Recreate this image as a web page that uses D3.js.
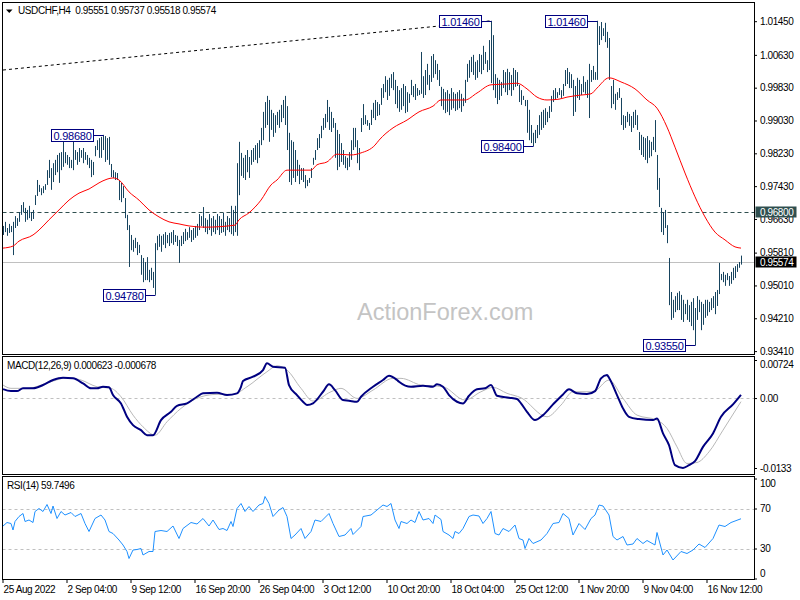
<!DOCTYPE html>
<html><head><meta charset="utf-8">
<script src="https://cdn.jsdelivr.net/npm/d3@7"></script>
<style>
body{margin:0;background:#fff}
svg{display:block}
text{font-family:"Liberation Sans",Arial,sans-serif}
</style>
</head><body><svg id="c" width="800" height="600"></svg>
<script>
// ---------- DATA ----------
const symbolTitle = "USDCHF,H4";
const lastOHLC = [0.95551, 0.95737, 0.95518, 0.95574];

const highs = [
0.9646,0.9656,0.9641,0.9651,0.9646,0.9656,0.9670,0.9665,0.9680,0.9697,
0.9704,0.9690,0.9685,0.9695,0.9680,0.9685,0.9721,0.9758,0.9746,0.9738,
0.9743,0.9748,0.9782,0.9807,0.9787,0.9799,0.9807,0.9819,0.9824,0.9826,
0.9855,0.9826,0.9819,0.9814,0.9807,0.9860,0.9831,0.9826,0.9836,0.9831,
0.9836,0.9826,0.9819,0.9812,0.9807,0.9802,0.9841,0.9855,0.9860,0.9863,
0.9868,0.9865,0.9860,0.9863,0.9797,0.9782,0.9777,0.9775,0.9758,0.9751,
0.9743,0.9714,0.9673,0.9648,0.9624,0.9612,0.9617,0.9607,0.9600,0.9575,
0.9568,0.9558,0.9570,0.9539,0.9544,0.9534,0.9604,0.9622,0.9626,0.9622,
0.9626,0.9631,0.9624,0.9629,0.9631,0.9636,0.9624,0.9622,0.9612,0.9622,
0.9631,0.9639,0.9631,0.9643,0.9636,0.9641,0.9646,0.9651,0.9675,0.9670,
0.9692,0.9665,0.9661,0.9675,0.9665,0.9670,0.9661,0.9675,0.9670,0.9663,
0.9678,0.9656,0.9670,0.9665,0.9695,0.9685,0.9695,0.9799,0.9851,0.9824,
0.9812,0.9819,0.9831,0.9814,0.9831,0.9836,0.9843,0.9848,0.9855,0.9885,
0.9924,0.9948,0.9963,0.9953,0.9929,0.9921,0.9916,0.9924,0.9929,0.9941,
0.9953,0.9963,0.9938,0.9873,0.9855,0.9851,0.9831,0.9807,0.9795,0.9787,
0.9787,0.9770,0.9758,0.9763,0.9787,0.9812,0.9831,0.9860,0.9870,0.9890,
0.9909,0.9919,0.9953,0.9936,0.9924,0.9909,0.9897,0.9880,0.9870,0.9848,
0.9831,0.9816,0.9812,0.9826,0.9855,0.9885,0.9885,0.9855,0.9836,0.9909,
0.9943,0.9916,0.9904,0.9897,0.9929,0.9946,0.9953,0.9948,0.9943,0.9982,
0.9992,1.0011,1.0002,1.0007,1.0016,1.0021,1.0002,0.9987,0.9977,0.9982,
0.9992,0.9987,0.9972,0.9968,1.0002,0.9987,0.9992,0.9982,0.9977,1.0070,
1.0011,1.0026,1.0041,1.0014,1.0060,1.0065,1.0050,1.0041,1.0026,0.9985,
0.9980,0.9972,0.9977,0.9968,0.9982,0.9972,0.9968,0.9972,0.9977,0.9968,
0.9958,1.0002,1.0041,1.0050,1.0058,1.0063,1.0046,1.0050,1.0065,1.0063,
1.0085,1.0070,1.0050,1.0099,1.0146,1.0111,1.0016,1.0007,1.0002,0.9997,
1.0026,1.0021,1.0029,1.0021,1.0014,1.0031,1.0026,1.0021,0.9990,0.9977,
0.9963,0.9953,0.9953,0.9929,0.9892,0.9873,0.9880,0.9892,0.9916,0.9924,
0.9929,0.9933,0.9924,0.9938,0.9963,0.9977,0.9982,0.9972,0.9982,0.9977,
0.9992,1.0026,1.0031,1.0021,1.0016,1.0002,0.9987,1.0007,1.0002,0.9992,
1.0011,0.9997,1.0002,1.0041,1.0026,1.0036,1.0021,1.0146,1.0133,1.0143,
1.0128,1.0141,1.0119,1.0104,0.9987,1.0002,0.9968,0.9972,0.9982,0.9958,
0.9916,0.9914,0.9924,0.9919,0.9914,0.9924,0.9929,0.9916,0.9875,0.9868,
0.9863,0.9860,0.9865,0.9855,0.9851,0.9863,0.9904,0.9819,0.9763,0.9690,
0.9680,0.9685,0.9648,0.9568,0.9485,0.9466,0.9475,0.9483,0.9487,0.9478,
0.9466,0.9456,0.9466,0.9453,0.9461,0.9470,0.9446,0.9475,0.9466,0.9461,
0.9456,0.9466,0.9466,0.9461,0.9470,0.9475,0.9485,0.9490,0.9556,0.9529,
0.9534,0.9527,0.9531,0.9524,0.9534,0.9544,0.9548,0.9553,0.9558,0.95737
];
const lows = [
0.9624,0.9631,0.9622,0.9629,0.9631,0.9575,0.9641,0.9646,0.9656,0.9673,
0.9680,0.9656,0.9661,0.9665,0.9658,0.9663,0.9697,0.9719,0.9729,0.9721,
0.9726,0.9734,0.9746,0.9763,0.9734,0.9753,0.9770,0.9777,0.9751,0.9782,
0.9790,0.9799,0.9795,0.9787,0.9787,0.9782,0.9807,0.9795,0.9802,0.9812,
0.9799,0.9807,0.9795,0.9787,0.9765,0.9770,0.9816,0.9831,0.9812,0.9812,
0.9831,0.9802,0.9807,0.9795,0.9765,0.9763,0.9758,0.9758,0.9709,0.9704,
0.9714,0.9665,0.9636,0.9546,0.9587,0.9583,0.9592,0.9575,0.9580,0.9527,
0.9509,0.9514,0.9514,0.9509,0.9514,0.9495,0.9478,0.9587,0.9595,0.9583,
0.9600,0.9592,0.9604,0.9597,0.9604,0.9600,0.9607,0.9597,0.9556,0.9597,
0.9602,0.9609,0.9612,0.9617,0.9607,0.9612,0.9617,0.9622,0.9636,0.9646,
0.9641,0.9631,0.9626,0.9636,0.9622,0.9631,0.9626,0.9636,0.9624,0.9629,
0.9631,0.9622,0.9636,0.9631,0.9626,0.9622,0.9631,0.9622,0.9721,0.9768,
0.9763,0.9758,0.9777,0.9763,0.9795,0.9802,0.9807,0.9799,0.9812,0.9843,
0.9855,0.9885,0.9892,0.9851,0.9880,0.9863,0.9873,0.9892,0.9885,0.9899,
0.9909,0.9892,0.9831,0.9753,0.9746,0.9763,0.9753,0.9768,0.9748,0.9758,
0.9753,0.9738,0.9743,0.9751,0.9763,0.9795,0.9807,0.9831,0.9836,0.9860,
0.9880,0.9885,0.9899,0.9880,0.9875,0.9885,0.9812,0.9782,0.9790,0.9802,
0.9795,0.9787,0.9782,0.9790,0.9807,0.9831,0.9838,0.9799,0.9782,0.9875,
0.9892,0.9894,0.9890,0.9880,0.9892,0.9909,0.9904,0.9914,0.9916,0.9941,
0.9958,0.9972,0.9953,0.9963,0.9982,0.9977,0.9943,0.9933,0.9924,0.9929,
0.9938,0.9921,0.9924,0.9946,0.9965,0.9960,0.9953,0.9963,0.9965,0.9968,
0.9958,0.9965,0.9990,0.9977,0.9997,1.0007,1.0016,1.0002,0.9987,0.9938,
0.9929,0.9921,0.9924,0.9916,0.9929,0.9933,0.9926,0.9929,0.9933,0.9924,
0.9938,0.9946,0.9997,1.0007,1.0021,1.0014,1.0002,1.0007,1.0021,1.0016,
1.0026,1.0041,1.0021,1.0026,0.9994,0.9977,0.9958,0.9943,0.9953,0.9963,
0.9982,0.9972,0.9965,0.9977,0.9963,0.9977,0.9985,0.9987,0.9948,0.9941,
0.9953,0.9938,0.9873,0.9855,0.9848,0.9840,0.9848,0.9860,0.9868,0.9880,
0.9885,0.9892,0.9899,0.9909,0.9924,0.9948,0.9953,0.9958,0.9965,0.9958,
0.9963,0.9987,0.9992,0.9982,0.9982,0.9914,0.9924,0.9958,0.9953,0.9965,
0.9972,0.9968,0.9958,0.9909,0.9997,1.0002,1.0002,1.0002,1.0087,1.0099,
1.0109,1.0094,1.0080,1.0002,0.9933,0.9943,0.9929,0.9953,0.9958,0.9892,
0.9880,0.9885,0.9899,0.9890,0.9875,0.9885,0.9892,0.9880,0.9831,0.9819,
0.9814,0.9807,0.9799,0.9812,0.9816,0.9831,0.9826,0.9734,0.9692,0.9631,
0.9624,0.9641,0.9604,0.9453,0.9417,0.9422,0.9436,0.9441,0.9441,0.9417,
0.9412,0.9431,0.9417,0.9412,0.9402,0.9392,0.9355,0.9417,0.9436,0.9392,
0.9405,0.9422,0.9427,0.9436,0.9441,0.9446,0.9431,0.9451,0.9480,0.9514,
0.9509,0.9500,0.9514,0.9500,0.9505,0.9514,0.9519,0.9534,0.9544,0.95518
];

// moving average : bar index / value
const maBars = [0,5,8,15,18,23,28,33,38,43,48,52,55,58,63,68,73,78,83,88,93,101,116,118,123,129,134,137,142,147,154,157,162,167,174,179,186,188,195,202,208,215,219,231,237,244,252,257,262,267,272,278,282,289,294,297,303,309,316,322,327,332,336,341,346,351,356,361,366,369];
const maVals = [0.9592,0.9597,0.9609,0.9624,0.9636,0.9661,0.9685,0.9709,0.9726,0.9736,0.9751,0.9760,0.9763,0.9758,0.9729,0.9709,0.9685,0.9668,0.9656,0.9651,0.9646,0.9643,0.9648,0.9661,0.9678,0.9709,0.9746,0.9758,0.9782,0.9782,0.9782,0.9795,0.9802,0.9821,0.9819,0.9824,0.9843,0.9855,0.9885,0.9904,0.9924,0.9938,0.9953,0.9953,0.9970,0.9990,0.9992,0.9994,0.9980,0.9960,0.9953,0.9955,0.9960,0.9965,0.9968,0.9982,1.0007,0.9997,0.9980,0.9953,0.9933,0.9887,0.9838,0.9775,0.9717,0.9668,0.9631,0.9612,0.9595,0.9592];

// MACD main / signal
const macdBars = [0,4,7,10,15,20,25,30,35,40,44,47,50,53,55,59,62,65,69,72,75,79,84,87,92,97,100,107,112,117,119,120,125,130,132,135,141,143,147,150,152,155,160,163,166,170,173,177,179,185,190,193,197,198,204,210,215,217,220,223,227,230,233,237,241,244,247,253,257,259,262,266,270,275,280,283,287,292,296,299,302,303,307,310,313,318,325,327,330,333,336,340,343,346,350,355,359,365,369];
const macdVals = [0.00171,0.00133,0.00133,0.00185,0.00185,0.00248,0.00343,0.00387,0.00375,0.00280,0.00185,0.00185,0.00215,0.00204,0.00057,-0.00101,-0.00356,-0.00514,-0.00610,-0.00705,-0.00705,-0.00419,-0.00261,-0.00147,-0.00101,0.00025,0.00090,0.00101,0.00057,0.00090,0.00215,0.00324,0.00406,0.00533,0.00661,0.00596,0.00577,0.00248,0.00057,-0.00070,-0.00133,-0.00101,0.00120,0.00261,0.00152,-0.00038,-0.00051,-0.00070,0.00025,0.00215,0.00343,0.00425,0.00343,0.00311,0.00215,0.00234,0.00215,0.00261,0.00215,0.00057,-0.00070,-0.00101,0.00044,0.00166,0.00185,0.00248,0.00044,0.00006,-0.00019,-0.00101,-0.00261,-0.00419,-0.00324,-0.00120,0.00070,0.00166,0.00090,0.00076,0.00133,0.00375,0.00438,0.00387,0.00057,-0.00196,-0.00356,-0.00400,-0.00419,-0.00387,-0.00672,-0.00895,-0.01276,-0.01328,-0.01276,-0.01200,-0.00928,-0.00672,-0.00356,-0.00120,0.000623];
const sigBars = [0,4,12,24,32,39,47,54,59,65,70,76,82,89,99,107,115,122,132,137,142,149,155,164,169,177,185,195,199,209,220,231,239,245,252,259,272,279,285,295,303,310,317,327,332,337,342,347,353,360,369];
const sigVals = [0.00248,0.00185,0.00185,0.00311,0.00387,0.00343,0.00215,0.00185,0.00025,-0.00324,-0.00547,-0.00705,-0.00451,-0.00196,0.00025,0.00070,0.00070,0.00215,0.00501,0.00615,0.00533,0.00185,-0.00057,0.00120,0.00185,-0.00006,0.00152,0.00375,0.00375,0.00248,0.00215,-0.00038,0.00120,0.00204,0.00090,0.00006,-0.00356,-0.00133,0.00120,0.00120,0.00343,-0.00006,-0.00324,-0.00419,-0.00577,-0.00928,-0.01244,-0.01225,-0.01023,-0.00610,-0.000678];

// RSI(14)
const rsiBars = [0,2,4,5,6,8,10,11,13,15,16,18,20,22,24,25,27,29,31,34,36,39,41,43,46,49,51,53,55,58,60,62,63,65,67,69,70,73,75,76,79,82,85,88,90,94,97,100,103,105,108,110,112,114,115,117,119,121,123,125,128,130,131,133,135,138,140,142,144,146,149,151,154,156,159,163,165,168,171,174,175,179,180,184,187,190,192,194,196,198,199,202,204,206,208,210,213,215,216,219,220,223,225,226,228,230,233,235,238,240,242,244,246,248,250,253,256,258,260,261,263,265,269,272,275,278,280,283,285,288,291,294,296,298,300,303,305,307,310,312,315,317,320,322,326,327,330,332,335,339,342,345,348,351,355,358,361,364,369];
const rsiVals = [52.5,56,55,48.5,57,62,65,57,58.5,56,67,70,67,74,65,72.5,60,67,63.5,66,62,65,55,47,60,63.5,58.5,47,45,38.5,33.5,27,20,28.5,29,30,23.5,27,27,47,48,47,52.5,40,50,56,54.5,60,52.5,58.5,49,50,48,57,52,70,75,67,72,67,73.5,75,82,75,62,68.5,71,62,40,43.5,50,40,47,58.5,57,65,55,42,43.5,50,44,52,62,63.5,68.5,73.5,72,75,58.5,50,57,55,58.5,56,67,58.5,60,55,63.5,59,47,43.5,40,47,45,50,62,63.5,62.5,55,60,67,45,43.5,50,47,53.5,40,38.5,30,40,35,38.5,45,55,56,65,60,43.5,55,49,60,63.5,73.5,72.5,63.5,42,38.5,42,33.5,34.5,40,35,38,33.5,46,23.5,28.5,18.5,27,25,28.5,34.5,31,40,53.5,52,56,59.7496];

// annotations, trend line, levels
const noteBars = [50,76,244,265,297,346];
const notePrices = [0.9868,0.9478,1.0146,0.9840,1.0146,0.9355];
const trendBars = [0,244];
const trendPrices = [1.0026,1.0146];
const levelPrice = 0.96800;
const currentPrice = 0.95574;

// axes
const priceTicks = [1.0145,1.0063,0.9983,0.9903,0.9823,0.9743,0.9663,0.9581,0.9501,0.9421,0.9341];
const macdTicks = [0.00724,0,-0.0133];
const macdTickLabels = ["0.00724","0.00","-0.0133"];
const rsiTicks = [100,70,30,0];
const rsiLevels = [70,30];
const xTickBars = [0,32,64,96,128,160,192,224,256,288,320,352];
const xLabels = ["25 Aug 2022","2 Sep 04:00","9 Sep 12:00","16 Sep 20:00","26 Sep 04:00","3 Oct 12:00","10 Oct 20:00","18 Oct 04:00","25 Oct 12:00","1 Nov 20:00","9 Nov 04:00","16 Nov 12:00"];
const macdName = "MACD(12,26,9)";
const macdLast = ["0.000623","-0.000678"];
const rsiName = "RSI(14)";
const rsiLast = "59.7496";

// ---------- DRAW ----------
const svg = d3.select("#c");
svg.append("rect").attr("width",800).attr("height",600).attr("fill","#fff");

const PX = {left:2.5,right:754.5};
const panes = {main:[2.5,354.5], macd:[356.5,474.5], rsi:[476.5,579.5]};

const xBar = d3.scaleLinear().domain([0,369]).range([3,741]);
const yP = d3.scaleLinear().domain([0.9341,1.0145]).range([351.1,21.2]);
const yM = d3.scaleLinear().domain([-0.0133,0.00724]).range([468,360]);
const yR = d3.scaleLinear().domain([0,100]).range([578.5,478.5]);
const px = i => Math.round(xBar(i)) + 0.5;
const FS = {"font-size":"10px","letter-spacing":"-0.4px"};
function applyFont(sel, fs){ sel.attr("font-size",fs||"10px").attr("letter-spacing","-0.4px").attr("fill","#000"); return sel; }

// clip paths
const defs = svg.append("defs");
Object.entries(panes).forEach(([k,[t,b]])=>{
  defs.append("clipPath").attr("id","clip-"+k).append("rect")
    .attr("x",PX.left).attr("y",t).attr("width",PX.right-PX.left).attr("height",b-t);
});

// ---- main pane ----
const gMain = svg.append("g").attr("clip-path","url(#clip-main)");
gMain.append("text").text("ActionForex.com").attr("x",357).attr("y",320)
  .attr("font-size","23.5px").attr("fill","#c4c4c4");

// level line
gMain.append("line").attr("x1",PX.left).attr("x2",PX.right)
  .attr("y1",Math.round(yP(levelPrice))+0.5).attr("y2",Math.round(yP(levelPrice))+0.5)
  .attr("stroke","#2f4f4f").attr("stroke-dasharray","4,3");
// current price line
gMain.append("line").attr("x1",PX.left).attr("x2",PX.right)
  .attr("y1",Math.round(yP(currentPrice))+0.5).attr("y2",Math.round(yP(currentPrice))+0.5)
  .attr("stroke","#c0c0c0");

// bars
gMain.append("g").selectAll("line").data(highs.map((h,i)=>({i,h,l:lows[i]})))
  .join("line")
  .attr("x1",d=>px(d.i)).attr("x2",d=>px(d.i))
  .attr("y1",d=>yP(d.h)).attr("y2",d=>Math.max(yP(d.l), yP(d.h)+1))
  .attr("stroke","#17445f").attr("stroke-width",1);

// moving average
gMain.append("path")
  .datum(maBars.map((b,i)=>[b,maVals[i]]))
  .attr("d",d3.line().x(d=>xBar(d[0])).y(d=>yP(d[1])).curve(d3.curveMonotoneX))
  .attr("fill","none").attr("stroke","#ff0000").attr("stroke-width",1);

// trend line
gMain.append("line")
  .attr("x1",xBar(trendBars[0])).attr("y1",yP(trendPrices[0]))
  .attr("x2",xBar(trendBars[1])).attr("y2",yP(trendPrices[1]))
  .attr("stroke","#000").attr("stroke-dasharray","3,3");

// annotations
noteBars.forEach((b,k)=>{
  const bx = px(b), py = Math.round(yP(notePrices[k]))+0.5;
  const right = bx - 10;
  gMain.append("line").attr("x1",right).attr("x2",bx).attr("y1",py).attr("y2",py)
    .attr("stroke","#000080");
  gMain.append("rect").attr("x",right-42).attr("y",py-6).attr("width",42).attr("height",12)
    .attr("fill","#fff").attr("stroke","#000080");
  gMain.append("text").text(d3.format(".5f")(notePrices[k]))
    .attr("x",right-21).attr("y",py+4).attr("text-anchor","middle")
    .attr("font-size","11px").attr("letter-spacing","-0.25px").attr("fill","#00008b");
});

// header
svg.append("path").attr("d","M6,9.5 L12.5,9.5 L9.25,13 Z").attr("fill","#000");
applyFont(svg.append("text").attr("x",18).attr("y",14).style("white-space","pre")
  .text(symbolTitle+"  "+lastOHLC.map(d3.format(".5f")).join(" ")));

// price axis
const pAxis = svg.append("g").attr("transform","translate(754,0)")
  .call(d3.axisRight(yP).tickValues(priceTicks).tickFormat(d3.format(".5f")).tickSize(3));
pAxis.select(".domain").remove();
pAxis.selectAll("text").attr("font-family","Liberation Sans, Arial, sans-serif");
applyFont(pAxis.selectAll("text"));
pAxis.selectAll("line").attr("stroke","#000");

// price tags
function tag(price, fill){
  const y = Math.round(yP(price));
  svg.append("rect").attr("x",755.5).attr("y",y-5.5).attr("width",41).attr("height",11).attr("fill",fill);
  svg.append("text").text(d3.format(".5f")(price)).attr("x",760).attr("y",y+4)
    .attr("font-size","10px").attr("letter-spacing","-0.4px").attr("fill","#fff");
}
tag(levelPrice,"#2f4f4f");
tag(currentPrice,"#000");

// ---- MACD pane ----
const gM = svg.append("g").attr("clip-path","url(#clip-macd)");
gM.append("line").attr("x1",PX.left).attr("x2",PX.right).attr("y1",Math.round(yM(0))+0.5).attr("y2",Math.round(yM(0))+0.5)
  .attr("stroke","#c0c0c0").attr("stroke-dasharray","3,3");
gM.append("path").datum(sigBars.map((b,i)=>[b,sigVals[i]]))
  .attr("d",d3.line().x(d=>xBar(d[0])).y(d=>yM(d[1])).curve(d3.curveMonotoneX))
  .attr("fill","none").attr("stroke","#b8b8b8").attr("stroke-width",1);
gM.append("path").datum(macdBars.map((b,i)=>[b,macdVals[i]]))
  .attr("d",d3.line().x(d=>xBar(d[0])).y(d=>yM(d[1])).curve(d3.curveMonotoneX))
  .attr("fill","none").attr("stroke","#000080").attr("stroke-width",2);
applyFont(svg.append("text").attr("x",7).attr("y",369).style("white-space","pre")
  .text(macdName+" "+macdLast.join(" ")));
const mAxis = svg.append("g").attr("transform","translate(754,0)")
  .call(d3.axisRight(yM).tickValues(macdTicks).tickFormat((d,i)=>macdTickLabels[i]).tickSize(3));
mAxis.select(".domain").remove();
applyFont(mAxis.selectAll("text"));
mAxis.selectAll("text").filter((d,i)=>i===0).attr("dy","0.75em");
mAxis.selectAll("line").attr("stroke","#000");

// ---- RSI pane ----
const gR = svg.append("g").attr("clip-path","url(#clip-rsi)");
rsiLevels.forEach(v=>{
  gR.append("line").attr("x1",PX.left).attr("x2",PX.right).attr("y1",Math.round(yR(v))+0.5).attr("y2",Math.round(yR(v))+0.5)
    .attr("stroke","#c0c0c0").attr("stroke-dasharray","3,3");
});
gR.append("path").datum(rsiBars.map((b,i)=>[b,rsiVals[i]]))
  .attr("d",d3.line().x(d=>xBar(d[0])).y(d=>yR(d[1])))
  .attr("fill","none").attr("stroke","#1e90ff").attr("stroke-width",1);
applyFont(svg.append("text").attr("x",7).attr("y",489).style("white-space","pre")
  .text(rsiName+" "+rsiLast));
const rAxis = svg.append("g").attr("transform","translate(754,0)")
  .call(d3.axisRight(yR).tickValues(rsiTicks).tickSize(3));
rAxis.select(".domain").remove();
applyFont(rAxis.selectAll("text"));
rAxis.selectAll("text").filter(d=>d===100).attr("dy","0.8em");
rAxis.selectAll("text").filter(d=>d===0).attr("dy","-0.2em");
rAxis.selectAll("line").attr("stroke","#000");

// ---- X axis ----
const xAxis = svg.append("g").attr("transform","translate(0,579)")
  .call(d3.axisBottom(xBar).tickValues(xTickBars).tickFormat((d,i)=>xLabels[i]).tickSize(4));
xAxis.select(".domain").remove();
applyFont(xAxis.selectAll("text")).attr("text-anchor","start").attr("x",0.5);
xAxis.selectAll("line").attr("stroke","#000");
xAxis.selectAll(".tick").attr("transform",d=>`translate(${Math.round(xBar(d))},0)`);

// pane borders
Object.values(panes).forEach(([t,b])=>{
  svg.append("rect").attr("x",PX.left).attr("y",t).attr("width",PX.right-PX.left).attr("height",b-t)
    .attr("fill","none").attr("stroke","#000");
});
d3.selectAll("text").attr("font-family","'Liberation Sans', Arial, sans-serif");
</script></body></html>
